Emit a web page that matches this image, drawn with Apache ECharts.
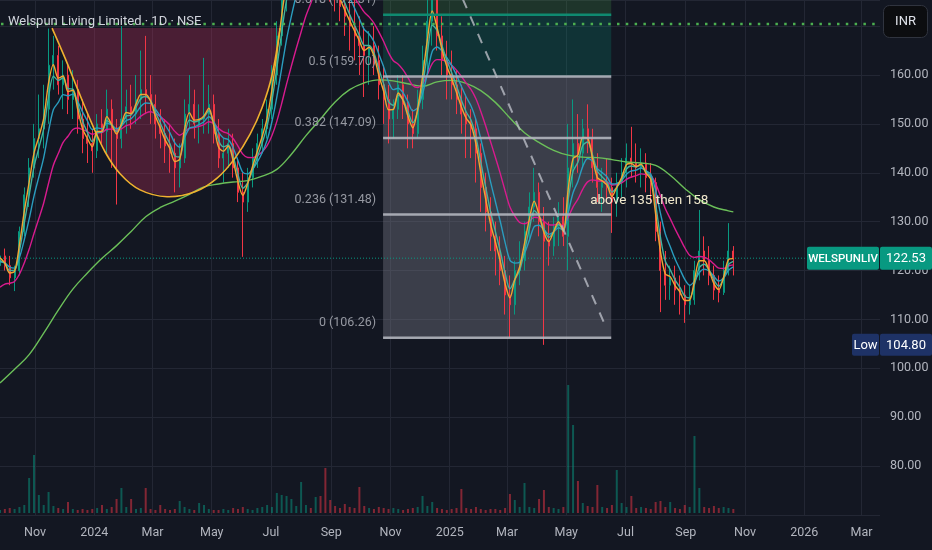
<!DOCTYPE html>
<html><head><meta charset="utf-8">
<script src="https://cdn.jsdelivr.net/npm/echarts@6/dist/echarts.min.js"></script>
<style>html,body{margin:0;padding:0;background:#131722;}#c{width:932px;height:550px;}</style>
</head><body><div id="c"></div>
<script>
const DAY = 86400000;
const ORIGIN = Date.UTC(2023, 8, 26);
const BAR_STEP_DAYS = 5;
const X_MAX_DAY = 906;
const Y_MIN = 70, Y_MAX = 175.34;

const opens = [
121,123,121,118.5,120,128,135.5,141,147,149,
153,162,164,158,160,155,157,151,147,146,
144.5,150,148.5,153,149,147,151,153.5,152,155,
157,156,154,150,148,145.5,144,141,143,152,
154,150,151,152,154,148,143,144,146,141,
136,134,139,143,146,149,153,160,168,176,
182,184,187,189,192,190,194,193,186,181,
177,174,172,170,168,166,164,166,163,158,
155,151,153,158,154,150,148,155,163,171,
176,168,163,160,158,155,152,150,149,144,
137,132,127,124,120,115,113,120,122,128,
133,136,130,126,125,129,131,127,141,146,
144,149,147,141,137,138,137,134,138,140,
143,142,141,142,139,138,128,120,117,118.5,
116,115,113,114,120,124,122,119,116,115.5,
120,124];
const highs = [
125,124.5,123,121,129,137,143,150,156,158,
169.5,168,166,163,162,161,159,155,152,149,
152,153,157,155,151,170,157,158,160,165,
168,160,156,153,151,150,147,146,155,160,
157,154,163.5,158,156,151,147,149,148,143,
140,141,145,148,151,155,162,171,180,186,
190,192,195,199,198,200,203,197,192,186,
183,180,178,176,172,170,169,170,166,162,
158,155,160,160,156,153,157,166,177,181,
180,172,167,165,161,158,156,153,151,146,
140,135,130,127,123,119,122,126,130,136,
141,138,133,130,131,134,135,150,155,152,
151,154,149,144,141,143,139,140,143,146,
149.4,146,145,144,142,139,130,124,121,121,
119,117,117,122,132.4,127,125,121,119,122,
129.7,125];
const lows = [
119.5,120,117,115.8,119,127,133,139,143,145,
150,157,156,153,152,151,148,144,142,140,
143,146,144,141,133.5,145,148,149,150,151,
152,150,147,145,142,140,136,137,142,149,
147,146,148,148,146,141,138,141,139,134,
122.8,132,137,141,144,147,151,158,166,173,
177,179,180,183,184,186,187,181,175,173,
171,168,165,163,160,155.5,158,160,155,150,
146,147,151,151,145,145,147,153,160,166,
165,160,155,155,152,148,143,143,138,132,
128,124,119,117,111,106.26,111,117,120,126,
130,127,104.8,121,123,125,125,120,137,140,
141,144,138,134,132,134,127.7,131,135,137,
139,138,137,136,134,126,111.5,114,114,113,
111,109.3,111,113,118,119,117,114,113.5,115,
119,119];
const closes = [
123,121,118.5,120,128,135.5,141,147,149,153,
162,164,158,160,155,157,151,147,146,144.5,
150,148.5,153,149,147,151,153.5,152,155,157,
156,154,150,148,145.5,144,141,143,152,154,
150,151,152,154,148,143,144,146,141,136,
134,139,143,146,149,153,160,168,176,182,
184,187,189,192,190,194,193,186,181,177,
174,172,170,168,166,164,166,163,158,155,
151,153,158,154,150,148,155,163,171,176,
168,163,160,158,155,152,150,149,144,137,
132,127,124,120,115,113,120,122,128,133,
136,130,126,125,129,131,127,141,146,144,
149,147,141,137,138,137,134,138,140,143,
142,141,142,139,138,128,120,117,118.5,116,
115,113,114,120,124,122,119,116,115.5,120,
124,122.53];
const volLakh = [
3,4,5,4,6,8,35,58,18,8,
21,7,5,4,11,4,3,4,3,4,
5,8,4,6,14,25,6,14,4,5,
25,4,3,8,4,3,4,12,6,4,
3,10,8,4,3,3,4,3,5,4,
6,4,3,5,6,8,6,20,18,17,
14,7,31,8,5,16,17,45,13,7,
5,9,6,5,26,7,5,4,6,5,
4,5,4,3,4,5,6,17,7,11,
5,4,3,4,5,24,5,4,6,4,
3,4,4,3,5,19,13,6,30,6,
5,14,23,6,5,4,6,128,88,32,
10,7,6,28,6,5,8,43,10,6,
17,5,6,5,4,11,12,6,11,5,
4,8,6,77,25,6,5,7,5,6,
5,4];

// 200-day average: [day offset from ORIGIN, value]
const ma200Pts = [
[0,97],[15,99.8],[30,102.8],[45,107.2],[60,111.9],[75,116.2],[90,119.5],[105,122.5],[120,125.1],[135,128],
[150,131],[165,132.9],[180,134.2],[195,135.6],[210,137.1],[225,137.7],[240,138.1],[255,138.4],[270,139.3],[285,140.7],
[300,143.8],[315,147.6],[330,151],[345,154.5],[360,157],[375,158.4],[390,159],[405,158.8],[420,158.2],[435,157.7],
[450,158.6],[465,158.9],[480,158.3],[495,156.8],[510,154.4],[525,151.2],[540,148.2],[555,146.2],[570,144.6],[585,143.6],
[600,143.2],[615,143.1],[630,142.7],[645,142.2],[660,142],[675,141.5],[690,139.5],[705,136.8],[720,134.5],[735,133],
[750,132.2],[755,132]];

// EMA periods (in chart bars) and starting values read at the left edge
const emaFastN = 2, emaFastSeed = 122.6;
const emaTealN = 3, emaTealSeed = 122.0;
const emaBlueN = 6, emaBlueSeed = 121.8;
const emaPinkN = 13, emaPinkSeed = 116.6;

// Fibonacci retracement drawing
const fibRatios = [0, 0.236, 0.382, 0.5, 0.618];
const fibPrices = [106.26, 131.48, 147.09, 159.70, 172.31];
const fibStartDay = 394.4, fibEndDay = 629.3;

// cup drawing (arc) points: [day offset, price]
const cupArc = [
[53.6,169.6],[66.9,163.5],[80.3,156.9],[94.7,150.0],[108.1,144.3],[123.6,139.8],[144.2,136.5],[172.0,135.1],
[200.8,136.1],[223.5,138.9],[242.0,143.0],[257.5,147.9],[269.8,153.3],[280.1,160.0],[288.4,169.6]];

// dashed trend line [day, price]
const trendPts = [[468.6,179.1],[625.1,107.85]];
const hLinePrice = 170.43;
const noteText = 'above 135 then 158';
const noteAt = [607.6, 134.4];
const symbolName = 'WELSPUNLIV';
const titleText = 'Welspun Living Limited · 1D · NSE';

const monthTicks = ['2023-11-01','2024-01-01','2024-03-01','2024-05-01','2024-07-01','2024-09-01','2024-11-01',
'2025-01-01','2025-03-01','2025-05-01','2025-07-01','2025-09-01','2025-11-01','2026-01-01','2026-03-01'];
const MONTHS = ['Jan','Feb','Mar','Apr','May','Jun','Jul','Aug','Sep','Oct','Nov','Dec'];

const barX = closes.map((_, i) => i * BAR_STEP_DAYS);
const tickDays = monthTicks.map(s => Math.round((Date.parse(s + 'T00:00:00Z') - ORIGIN) / DAY));
const candleData = closes.map((c, i) => [barX[i], opens[i], c, lows[i], highs[i]]);
function ema(n, seed) {
  const k = 2 / (n + 1); let e = seed;
  return closes.map((c, i) => { if (i > 0) e = k * c + (1 - k) * e; return [barX[i], +e.toFixed(2)]; });
}
const lastPrice = closes[closes.length - 1];
const lowPrice = Math.min.apply(null, lows);
const FONT = 'Roboto, "Liberation Sans", sans-serif';

function renderBack(params, api) {
  const P = (d, p) => api.coord([d, p]);
  const yp = p => P(0, p)[1];
  const kids = [];
  const xa = P(fibStartDay, 0)[0], xb = P(fibEndDay, 0)[0];
  const band = (p1, p2, fill) => kids.push({type: 'rect', shape: {x: xa, y: yp(p2), width: xb - xa, height: yp(p1) - yp(p2)}, style: {fill}});
  band(fibPrices[0], fibPrices[3], 'rgba(120,123,134,0.4)');
  band(fibPrices[3], fibPrices[4], 'rgba(8,153,129,0.22)');
  band(fibPrices[4], Y_MAX, 'rgba(76,175,80,0.2)');
  kids.push({type: 'polygon', shape: {points: cupArc.map(a => P(a[0], a[1]))}, style: {fill: 'rgba(202,46,97,0.3)'}});
  const xr = P(X_MAX_DAY, 0)[0];
  kids.push({type: 'line', shape: {x1: P(0, 0)[0], y1: yp(lastPrice), x2: xr - 73, y2: yp(lastPrice)}, style: {stroke: '#089981', lineWidth: 1, lineDash: [1, 2]}});
  return {type: 'group', children: kids};
}

function renderFront(params, api) {
  const P = (d, p) => api.coord([d, p]);
  const yp = p => P(0, p)[1];
  const kids = [];
  const xa = P(fibStartDay, 0)[0], xb = P(fibEndDay, 0)[0];
  fibPrices.forEach((p, i) => {
    const y = yp(p);
    kids.push({type: 'line', shape: {x1: xa, y1: y, x2: xb, y2: y}, style: {stroke: i === 4 ? '#0f8a70' : 'rgba(178,181,190,0.9)', lineWidth: 2.5}});
    kids.push({type: 'text', style: {text: String(fibRatios[i]) + ' (' + p.toFixed(2) + ')', x: xa - 7, y: y - 15, align: 'right', verticalAlign: 'middle', fill: '#9598a1', font: '12.5px ' + FONT}});
  });
  kids.push({type: 'polyline', shape: {points: cupArc.map(a => P(a[0], a[1])), smooth: 0.35}, style: {stroke: '#f0b030', lineWidth: 1.6, fill: null}});
  const t0 = P(trendPts[0][0], trendPts[0][1]), t1 = P(trendPts[1][0], trendPts[1][1]);
  kids.push({type: 'line', shape: {x1: t0[0], y1: t0[1], x2: t1[0], y2: t1[1]}, style: {stroke: 'rgba(185,188,196,0.8)', lineWidth: 2, lineDash: [10, 9]}});
  const xr = P(X_MAX_DAY, 0)[0];
  kids.push({type: 'line', shape: {x1: 1, y1: yp(hLinePrice), x2: xr, y2: yp(hLinePrice)}, style: {stroke: '#4caf50', lineWidth: 2.5, lineDash: [2.5, 6.3]}});
  const n = P(noteAt[0], noteAt[1]);
  kids.push({type: 'text', style: {text: noteText, x: n[0], y: n[1], align: 'left', verticalAlign: 'middle', fill: '#f1e9cd', font: '13.5px ' + FONT}});
  const yl = yp(lastPrice);
  kids.push({type: 'rect', shape: {x: xr - 73, y: yl - 11.5, width: 72, height: 23, r: 2}, style: {fill: '#089981'}});
  kids.push({type: 'rect', shape: {x: xr, y: yl - 11.5, width: 52, height: 23, r: 2}, style: {fill: '#089981'}});
  kids.push({type: 'text', style: {text: symbolName, x: xr - 37, y: yl + 0.5, align: 'center', verticalAlign: 'middle', fill: '#ffffff', font: '500 11.5px ' + FONT}});
  kids.push({type: 'text', style: {text: lastPrice.toFixed(2), x: xr + 26, y: yl + 0.5, align: 'center', verticalAlign: 'middle', fill: '#ffffff', font: '13px ' + FONT}});
  const yw = yp(lowPrice);
  kids.push({type: 'rect', shape: {x: xr - 28, y: yw - 11, width: 27, height: 22, r: 2}, style: {fill: '#1e3266'}});
  kids.push({type: 'rect', shape: {x: xr, y: yw - 11, width: 52, height: 22, r: 2}, style: {fill: '#1e3266'}});
  kids.push({type: 'text', style: {text: 'Low', x: xr - 14.5, y: yw + 0.5, align: 'center', verticalAlign: 'middle', fill: '#ffffff', font: '13px ' + FONT}});
  kids.push({type: 'text', style: {text: lowPrice.toFixed(2), x: xr + 26, y: yw + 0.5, align: 'center', verticalAlign: 'middle', fill: '#ffffff', font: '13px ' + FONT}});
  return {type: 'group', children: kids};
}

const chart = echarts.init(document.getElementById('c'), null, {renderer: 'canvas', width: 932, height: 550});
const option = {
  backgroundColor: '#131722',
  animation: false,
  textStyle: {fontFamily: FONT},
  grid: [
    {left: 0, right: 52, top: 0, bottom: 35},
    {left: 0, right: 52, top: 0, bottom: 37}
  ],
  xAxis: [
    {type: 'value', gridIndex: 0, min: 0, max: X_MAX_DAY,
     axisLine: {show: false}, axisTick: {show: false, customValues: tickDays},
     axisLabel: {customValues: tickDays, color: '#b2b5be', fontSize: 12.5, margin: 11, hideOverlap: false,
       formatter: v => { const d = new Date(ORIGIN + v * DAY); const m = d.getUTCMonth(); return m === 0 ? String(d.getUTCFullYear()) : MONTHS[m]; }},
     splitLine: {show: true, lineStyle: {color: '#232734', width: 1}}},
    {type: 'value', gridIndex: 1, min: 0, max: X_MAX_DAY, show: false, splitLine: {show: false}}
  ],
  yAxis: [
    {type: 'value', gridIndex: 0, position: 'right', min: Y_MIN, max: Y_MAX, interval: 10,
     axisLine: {show: false}, axisTick: {show: false},
     axisLabel: {color: '#b2b5be', fontSize: 12.5, margin: 10, formatter: v => (v < 75 || v > 165) ? '' : v.toFixed(2)},
     splitLine: {show: true, lineStyle: {color: '#232734', width: 1}}},
    {type: 'value', gridIndex: 1, min: 0, max: 513, show: false, splitLine: {show: false}}
  ],
  graphic: [
    {type: 'text', left: 8, top: 15, z: 100, style: {text: titleText, fill: '#d1d4dc', font: '13px ' + FONT}},
    {type: 'group', right: 4, top: 5, z: 100, children: [
      {type: 'rect', shape: {x: 0, y: 0, width: 44, height: 32, r: 6}, style: {fill: '#0c0d10', stroke: '#30343f', lineWidth: 1}},
      {type: 'text', x: 22, y: 16, style: {text: 'INR', fill: '#e0e3eb', align: 'center', verticalAlign: 'middle', font: '13px ' + FONT}}
    ]}
  ],
  series: [
    {type: 'custom', name: 'bg', coordinateSystem: 'cartesian2d', xAxisIndex: 0, yAxisIndex: 0, data: [[0, 100]], renderItem: renderBack, z: 1, silent: true, clip: false},
    {type: 'bar', name: 'Volume', xAxisIndex: 1, yAxisIndex: 1, barWidth: 2, z: 1, silent: true,
     data: volLakh.map((v, i) => ({value: [barX[i], v], itemStyle: {color: closes[i] >= opens[i] ? 'rgba(8,153,129,0.5)' : 'rgba(242,54,69,0.5)'}}))},
    {type: 'candlestick', name: 'Price', xAxisIndex: 0, yAxisIndex: 0, data: candleData, barWidth: 1.5, z: 2, silent: true, clip: true,
     itemStyle: {color: '#089981', color0: '#f23645', borderColor: '#089981', borderColor0: '#f23645', borderWidth: 1}},
    {type: 'line', name: 'MA200', data: ma200Pts, showSymbol: false, smooth: 0.4, z: 3, silent: true, lineStyle: {color: '#6bbf59', width: 1.4}},
    {type: 'line', name: 'EMA pink', data: ema(emaPinkN, emaPinkSeed), showSymbol: false, smooth: 0.3, z: 3, silent: true, lineStyle: {color: '#d81b8e', width: 1.4}},
    {type: 'line', name: 'EMA blue', data: ema(emaBlueN, emaBlueSeed), showSymbol: false, smooth: 0.3, z: 3, silent: true, lineStyle: {color: '#2a9dbf', width: 1.4}},
    {type: 'line', name: 'EMA teal', data: ema(emaTealN, emaTealSeed), showSymbol: false, smooth: 0.3, z: 3, silent: true, lineStyle: {color: '#45b39d', width: 1.4}},
    {type: 'line', name: 'EMA orange', data: ema(emaFastN, emaFastSeed), showSymbol: false, smooth: 0.3, z: 3, silent: true, lineStyle: {color: '#f2a531', width: 1.4}},
    {type: 'custom', name: 'fg', coordinateSystem: 'cartesian2d', xAxisIndex: 0, yAxisIndex: 0, data: [[0, 100]], renderItem: renderFront, z: 5, silent: true, clip: false}
  ]
};
chart.setOption(option);
</script>
</body></html>
